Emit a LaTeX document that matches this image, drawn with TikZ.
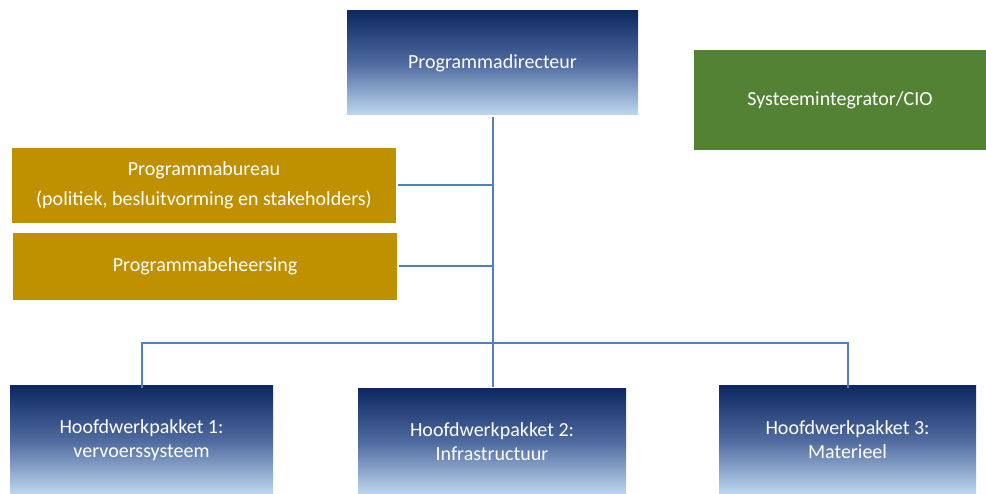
\documentclass[tikz,border=0pt]{standalone}
\usepackage{fontspec}
\setmainfont{Carlito}
\definecolor{navytop}{RGB}{14,40,98}
\definecolor{navymid}{RGB}{78,106,158}
\definecolor{navybot}{RGB}{190,215,240}
\definecolor{goldbox}{RGB}{191,144,0}
\definecolor{greenbox}{RGB}{84,130,53}
\definecolor{linkblue}{RGB}{79,129,189}
\tikzset{
  bluebox/.style={rectangle, inner sep=0pt, text=white, align=center,
    top color=navytop, bottom color=navybot, middle color=navymid,
    font=\fontsize{20}{24}\selectfont},
  goldrect/.style={rectangle, inner sep=0pt, text=white, align=center, fill=goldbox,
    font=\fontsize{20}{30}\selectfont},
  greenrect/.style={rectangle, inner sep=0pt, text=white, align=center, fill=greenbox,
    font=\fontsize{20}{24}\selectfont},
  link/.style={draw=linkblue, line width=2pt}
}
\begin{document}
\begin{tikzpicture}[x=1pt,y=-1pt]
\useasboundingbox (0,0) rectangle (986,494);
\node[bluebox, minimum width=291pt, minimum height=104pt] (dir) at (492.5,63) {Programmadirecteur};
\node[greenrect, minimum width=292pt, minimum height=100pt] (cio) at (840,100) {Systeemintegrator/CIO};
\node[goldrect, minimum width=384pt, minimum height=75pt] (bur) at (204,185.5) {Programmabureau\\(politiek, besluitvorming en stakeholders)};
\node[goldrect, minimum width=384pt, minimum height=67pt] (beh) at (205,266.5) {Programmabeheersing};
\node[bluebox, minimum width=263pt, minimum height=108pt] (h1) at (141.5,440) {Hoofdwerkpakket 1:\\vervoerssysteem};
\node[bluebox, minimum width=268pt, minimum height=105pt] (h2) at (492,441.5) {Hoofdwerkpakket 2:\\Infrastructuur};
\node[bluebox, minimum width=257pt, minimum height=108pt] (h3) at (847.5,440) {Hoofdwerkpakket 3:\\Materieel};
\coordinate (bus) at (493,343);
\coordinate (top) at (493,117);
\coordinate (bot) at (493,387);
\draw[link] (top) -- (bot);
\draw[link] ([xshift=2pt]bur.east) -- (bur.east -| top);
\draw[link] ([xshift=2pt]beh.east) -- (beh.east -| top);
\draw[link] ([yshift=-2pt]h1.north) |- (bus) -| ([yshift=-2pt]h3.north);
\end{tikzpicture}
\end{document}
